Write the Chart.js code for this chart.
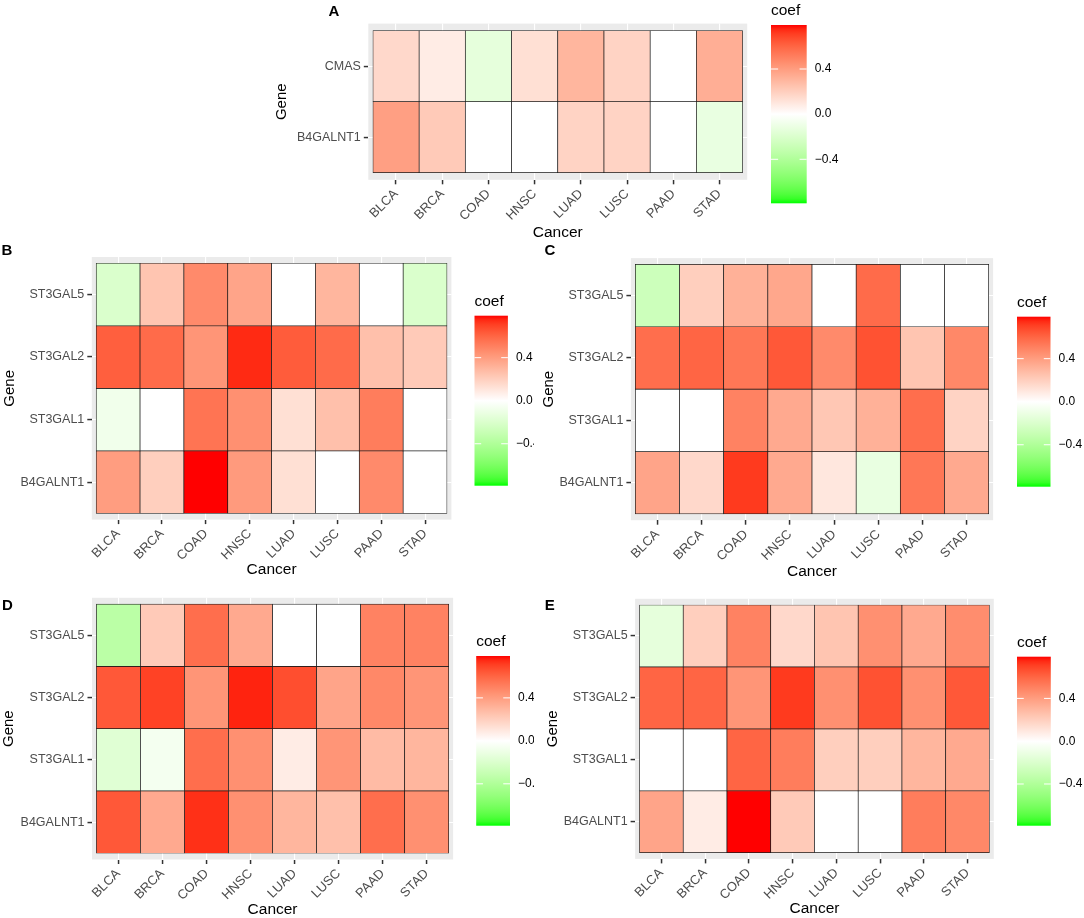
<!DOCTYPE html>
<html>
<head>
<meta charset="utf-8">
<script src="https://cdn.jsdelivr.net/npm/chart.js@4.4.1/dist/chart.umd.min.js"></script>
<style>
  html, body { margin: 0; padding: 0; background: #fff; overflow: hidden; }
  #page { position: relative; width: 1084px; height: 918px; }
  canvas { position: absolute; }
</style>
</head>
<body>
<div id="page">
  <canvas id="panelA"></canvas>
  <canvas id="panelB"></canvas>
  <canvas id="panelC"></canvas>
  <canvas id="panelD"></canvas>
  <canvas id="panelE"></canvas>
</div>
<script>
const cancers = ["BLCA", "BRCA", "COAD", "HNSC", "LUAD", "LUSC", "PAAD", "STAD"];
const genesA = ["B4GALNT1", "CMAS"];
const genesST = ["B4GALNT1", "ST3GAL1", "ST3GAL2", "ST3GAL5"];
const legendTicks = [-0.4, 0, 0.4];
const coefLimit = 0.79;

// one row per gene, bottom row first (same order as the gene arrays)
const coefA = [
  [0.39, 0.22, 0, 0, 0.18, 0.18, 0, -0.12],
  [0.16, 0.08, -0.14, 0.13, 0.3, 0.18, 0, 0.33]
];
const coefB = [
  [0.4, 0.2, 0.79, 0.41, 0.13, 0, 0.47, 0],
  [-0.08, 0, 0.55, 0.45, 0.13, 0.26, 0.52, 0],
  [0.62, 0.58, 0.43, 0.75, 0.63, 0.58, 0.26, 0.22],
  [-0.2, 0.24, 0.47, 0.37, 0, 0.3, 0, -0.2]
];
const coefC = [
  [0.37, 0.16, 0.72, 0.35, 0.1, -0.12, 0.54, 0.35],
  [0, 0, 0.5, 0.35, 0.23, 0.32, 0.57, 0.18],
  [0.57, 0.6, 0.54, 0.64, 0.47, 0.66, 0.24, 0.48],
  [-0.27, 0.2, 0.32, 0.36, 0, 0.58, 0, 0]
];
const coefD = [
  [0.64, 0.35, 0.74, 0.45, 0.3, 0.26, 0.57, 0.45],
  [-0.17, -0.06, 0.57, 0.45, 0.08, 0.43, 0.28, 0.3],
  [0.64, 0.7, 0.43, 0.76, 0.67, 0.37, 0.48, 0.43],
  [-0.35, 0.22, 0.57, 0.35, 0, 0, 0.5, 0.5]
];
const coefE = [
  [0.37, 0.08, 0.79, 0.22, 0, 0, 0.52, 0.48],
  [0, 0, 0.6, 0.52, 0.2, 0.2, 0.3, 0.35],
  [0.6, 0.6, 0.43, 0.72, 0.45, 0.66, 0.45, 0.64],
  [-0.14, 0.2, 0.5, 0.16, 0.24, 0.45, 0.35, 0.46]
];

Chart.defaults.font.family = "'Liberation Sans', Arial, sans-serif";

// green - white - red gradient in Lab space, like ggplot's gradient2
function toLinear(c) { c /= 255; return c <= 0.04045 ? c / 12.92 : Math.pow((c + 0.055) / 1.055, 2.4); }
function toSrgb(c) {
  c = c <= 0.0031308 ? 12.92 * c : 1.055 * Math.pow(c, 1 / 2.4) - 0.055;
  return Math.round(Math.max(0, Math.min(1, c)) * 255);
}
function rgbToLab(rgb) {
  const R = toLinear(rgb[0]), G = toLinear(rgb[1]), B = toLinear(rgb[2]);
  const X = (0.4124 * R + 0.3576 * G + 0.1805 * B) / 0.95047;
  const Y = 0.2126 * R + 0.7152 * G + 0.0722 * B;
  const Z = (0.0193 * R + 0.1192 * G + 0.9505 * B) / 1.08883;
  const f = t => t > 0.008856 ? Math.cbrt(t) : 7.787 * t + 16 / 116;
  return [116 * f(Y) - 16, 500 * (f(X) - f(Y)), 200 * (f(Y) - f(Z))];
}
function labToRgb(lab) {
  const fy = (lab[0] + 16) / 116, fx = fy + lab[1] / 500, fz = fy - lab[2] / 200;
  const inv = t => t * t * t > 0.008856 ? t * t * t : (t - 16 / 116) / 7.787;
  const X = inv(fx) * 0.95047, Y = inv(fy), Z = inv(fz) * 1.08883;
  return [
    toSrgb(3.2406 * X - 1.5372 * Y - 0.4986 * Z),
    toSrgb(-0.9689 * X + 1.8758 * Y + 0.0415 * Z),
    toSrgb(0.0557 * X - 0.2040 * Y + 1.0570 * Z)
  ];
}
const labLow = rgbToLab([0, 255, 0]);
const labMid = rgbToLab([255, 255, 255]);
const labHigh = rgbToLab([255, 0, 0]);
function coefColor(v) {
  const t = Math.max(-1, Math.min(1, v / coefLimit));
  const end = t < 0 ? labLow : labHigh;
  const k = Math.abs(t);
  const c = labToRgb(labMid.map((m, i) => m + (end[i] - m) * k));
  return "rgb(" + c[0] + "," + c[1] + "," + c[2] + ")";
}

const panelBg = {
  id: "panelBg",
  beforeDraw(chart) {
    const { ctx, chartArea: a } = chart;
    ctx.save();
    ctx.fillStyle = "#EBEBEB";
    ctx.fillRect(a.left, a.top, a.width, a.height);
    ctx.restore();
  }
};

const colorbar = {
  id: "colorbar",
  afterDraw(chart, args, opts) {
    const ctx = chart.ctx;
    const l = opts.bar.l - opts.origin.l, t = opts.bar.t - opts.origin.t;
    const w = opts.bar.r - opts.bar.l, h = opts.bar.b - opts.bar.t;
    const yOf = v => t + (coefLimit - v) / (2 * coefLimit) * h;
    ctx.save();
    const grad = ctx.createLinearGradient(0, t, 0, t + h);
    for (let i = 0; i <= 40; i++) {
      grad.addColorStop(i / 40, coefColor(coefLimit - i / 40 * 2 * coefLimit));
    }
    ctx.fillStyle = grad;
    ctx.fillRect(l, t, w, h);

    ctx.strokeStyle = "#fff";
    ctx.lineWidth = 1;
    ctx.fillStyle = "#000";
    ctx.font = "12px 'Liberation Sans', Arial, sans-serif";
    ctx.textAlign = "left";
    ctx.textBaseline = "middle";
    legendTicks.forEach(v => {
      const y = yOf(v);
      ctx.beginPath();
      ctx.moveTo(l, y); ctx.lineTo(l + w / 5, y);
      ctx.moveTo(l + w - w / 5, y); ctx.lineTo(l + w, y);
      ctx.stroke();
      const txt = (v < 0 ? "\u2212" : "") + Math.abs(v).toFixed(1);
      ctx.fillText(txt, l + w + 8, y);
    });

    ctx.font = "15.5px 'Liberation Sans', Arial, sans-serif";
    ctx.textBaseline = "alphabetic";
    ctx.fillText("coef", l, t - 10);

    ctx.font = "bold 15px 'Liberation Sans', Arial, sans-serif";
    ctx.textAlign = "center";
    ctx.textBaseline = "middle";
    ctx.fillText(opts.letter, opts.letterAt[0] - opts.origin.l, opts.letterAt[1] - opts.origin.t);
    ctx.restore();
  }
};

const panels = [
  { id: "panelA", letter: "A", genes: genesA, coef: coefA,
    canvas: { l: 268, t: 0, w: 592, h: 250 },
    area: { l: 368.3, t: 23.6, r: 747.2, b: 179.8 },
    bar: { l: 771, t: 25, r: 806.7, b: 203.3 },
    letterAt: [334, 12], geneX: 282, cancerY: 233 },
  { id: "panelB", letter: "B", genes: genesST, coef: coefB,
    canvas: { l: 0, t: 240, w: 534, h: 350 },
    area: { l: 91.8, t: 257, r: 451.4, b: 519.6 },
    bar: { l: 474.5, t: 315.7, r: 507.9, b: 485.7 },
    letterAt: [7, 251], geneX: 10.3, cancerY: 570 },
  { id: "panelC", letter: "C", genes: genesST, coef: coefC,
    canvas: { l: 534, t: 240, w: 550, h: 350 },
    area: { l: 630.9, t: 258.1, r: 993.1, b: 520.2 },
    bar: { l: 1017, t: 316.7, r: 1050.5, b: 486.7 },
    letterAt: [550, 251], geneX: 548.9, cancerY: 571.7 },
  { id: "panelD", letter: "D", genes: genesST, coef: coefD,
    canvas: { l: 0, t: 585, w: 534, h: 340 },
    area: { l: 92, t: 597.8, r: 453.1, b: 859.5 },
    bar: { l: 476.2, t: 656, r: 510, b: 825.7 },
    letterAt: [7.4, 606], geneX: 9.3, cancerY: 910 },
  { id: "panelE", letter: "E", genes: genesST, coef: coefE,
    canvas: { l: 534, t: 585, w: 550, h: 340 },
    area: { l: 635.1, t: 598.8, r: 993.8, b: 858.9 },
    bar: { l: 1017, t: 656.7, r: 1050.8, b: 825.7 },
    letterAt: [549.7, 606], geneX: 553, cancerY: 909 }
];

function drawPanel(p) {
  const canvas = document.getElementById(p.id);
  canvas.width = p.canvas.w;
  canvas.height = p.canvas.h;
  canvas.style.left = p.canvas.l + "px";
  canvas.style.top = p.canvas.t + "px";
  canvas.style.width = p.canvas.w + "px";
  canvas.style.height = p.canvas.h + "px";

  const cells = [];
  const colors = [];
  p.genes.forEach((g, gi) => {
    cancers.forEach((c, ci) => {
      cells.push({ x: ci + 0.5, y: [gi, gi + 1] });
      colors.push(coefColor(p.coef[gi][ci]));
    });
  });

  const yWidth = p.area.l - p.canvas.l;
  const xHeight = p.canvas.t + p.canvas.h - p.area.b;

  new Chart(canvas, {
    type: "bar",
    data: {
      datasets: [{
        data: cells,
        backgroundColor: colors,
        borderColor: "#1a1a1a",
        borderWidth: 0.7,
        borderSkipped: false,
        categoryPercentage: 1,
        barPercentage: 1
      }]
    },
    options: {
      responsive: false,
      animation: false,
      layout: {
        padding: {
          left: 0,
          top: p.area.t - p.canvas.t,
          right: p.canvas.l + p.canvas.w - p.area.r,
          bottom: 0
        }
      },
      plugins: {
        legend: { display: false },
        tooltip: { enabled: false },
        colorbar: { bar: p.bar, origin: p.canvas, letter: p.letter, letterAt: p.letterAt }
      },
      scales: {
        x: {
          type: "linear",
          offset: false,
          min: -0.1,
          max: cancers.length + 0.1,
          afterBuildTicks: s => { s.ticks = cancers.map((c, i) => ({ value: i + 0.5 })); },
          afterFit: s => { s.height = xHeight; },
          ticks: {
            autoSkip: false,
            minRotation: 45,
            maxRotation: 45,
            padding: 2,
            color: "#4D4D4D",
            font: { size: 13 },
            callback: (v, i) => cancers[i]
          },
          grid: {
            offset: false,
            color: "#fff",
            lineWidth: 1.1,
            drawTicks: true,
            tickLength: 4.5,
            tickColor: "#333",
            tickWidth: 1.5
          },
          border: { display: false },
          title: {
            display: true,
            text: "Cancer",
            color: "#000",
            font: { size: 15.5 },
            padding: { top: 0, bottom: p.canvas.t + p.canvas.h - p.cancerY - 9.3 }
          }
        },
        y: {
          type: "linear",
          offset: false,
          min: -0.1,
          max: p.genes.length + 0.1,
          afterBuildTicks: s => { s.ticks = p.genes.map((g, i) => ({ value: i + 0.5 })); },
          afterFit: s => { s.width = yWidth; },
          ticks: {
            autoSkip: false,
            padding: 3,
            color: "#4D4D4D",
            font: { size: 12.5 },
            callback: (v, i) => p.genes[i]
          },
          grid: {
            offset: false,
            color: "#fff",
            lineWidth: 1.1,
            drawTicks: true,
            tickLength: 4.5,
            tickColor: "#333",
            tickWidth: 1.5
          },
          border: { display: false },
          title: {
            display: true,
            text: "Gene",
            color: "#000",
            font: { size: 15 },
            padding: { top: p.geneX - p.canvas.l - 9, bottom: 0 }
          }
        }
      }
    },
    plugins: [panelBg, colorbar]
  });
}

panels.forEach(drawPanel);
</script>
</body>
</html>
